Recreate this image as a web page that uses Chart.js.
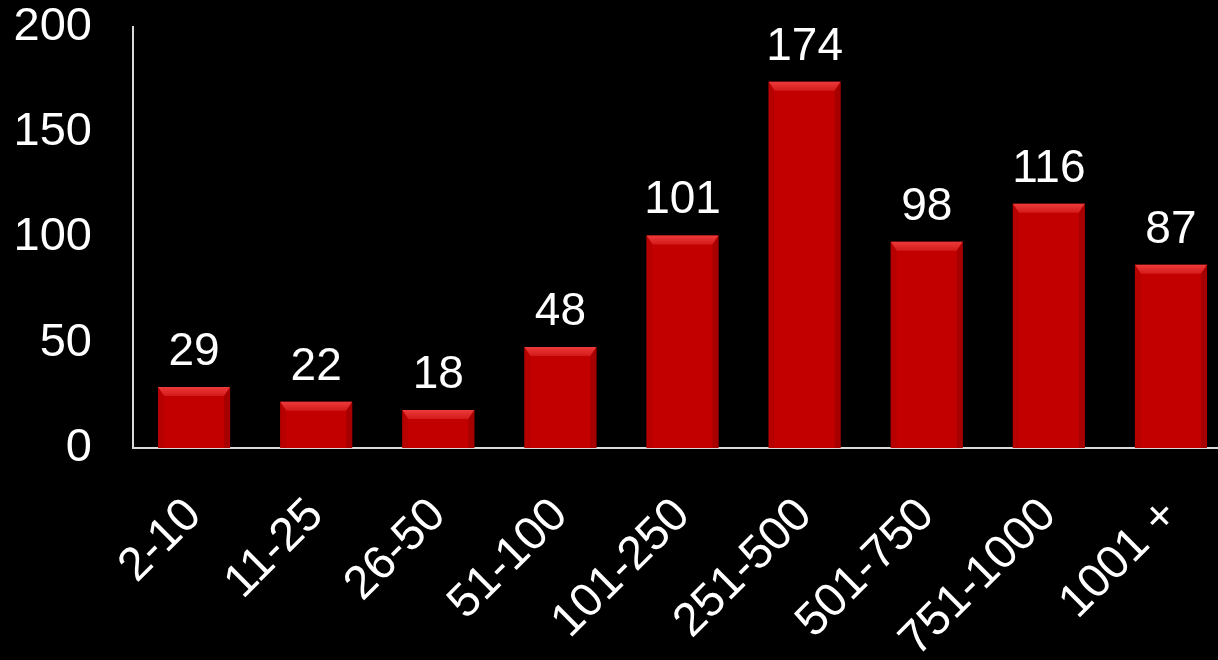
<!DOCTYPE html>
<html>
<head>
<meta charset="utf-8">
<script src="https://cdn.jsdelivr.net/npm/chart.js@4/dist/chart.umd.min.js"></script>
<style>
  html, body { margin: 0; padding: 0; background: #000; overflow: hidden; }
  #wrap { position: relative; width: 1232px; height: 660px; }
</style>
</head>
<body>
<div id="wrap"><canvas id="c"></canvas></div>
<script>
const categories = ["2-10", "11-25", "26-50", "51-100", "101-250", "251-500", "501-750", "751-1000", "1001 +"];
const values = [29, 22, 18, 48, 101, 174, 98, 116, 87];
const yTicks = [0, 50, 100, 150, 200];

const FONT = "'Liberation Sans', Arial, sans-serif";

const bevelPlugin = {
  id: 'bevel',
  afterDatasetsDraw(chart) {
    const ctx = chart.ctx;
    const meta = chart.getDatasetMeta(0);
    meta.data.forEach((bar, i) => {
      const p = bar.getProps(['x', 'y', 'base', 'width'], true);
      const l = p.x - p.width / 2, r = p.x + p.width / 2, t = p.y, b = p.base;
      const bt = 9, bs = 6;
      ctx.save();
      // top bevel
      let g = ctx.createLinearGradient(0, t, 0, t + bt);
      g.addColorStop(0, '#ec3a3a');
      g.addColorStop(1, '#d41a1a');
      ctx.fillStyle = g;
      ctx.beginPath();
      ctx.moveTo(l, t); ctx.lineTo(r, t); ctx.lineTo(r - bs, t + bt); ctx.lineTo(l + bs, t + bt); ctx.closePath();
      ctx.fill();
      // left bevel
      ctx.fillStyle = 'rgba(170,0,0,0.45)';
      ctx.beginPath();
      ctx.moveTo(l, t); ctx.lineTo(l + bs, t + bt); ctx.lineTo(l + bs, b); ctx.lineTo(l, b); ctx.closePath();
      ctx.fill();
      // right bevel
      ctx.fillStyle = 'rgba(140,0,0,0.5)';
      ctx.beginPath();
      ctx.moveTo(r, t); ctx.lineTo(r - bs, t + bt); ctx.lineTo(r - bs, b); ctx.lineTo(r, b); ctx.closePath();
      ctx.fill();
      // value label
      ctx.fillStyle = '#ffffff';
      ctx.font = '46px ' + FONT;
      ctx.textAlign = 'center';
      ctx.textBaseline = 'alphabetic';
      ctx.fillText(String(values[i]), p.x, t - 22);
      ctx.restore();
    });
  }
};

new Chart(document.getElementById('c'), {
  type: 'bar',
  data: {
    labels: categories,
    datasets: [{
      data: values,
      backgroundColor: '#c20000',
      borderWidth: 0,
      barPercentage: 0.59,
      categoryPercentage: 1.0
    }]
  },
  options: {
    responsive: true,
    maintainAspectRatio: false,
    animation: false,
    layout: { padding: 0 },
    plugins: { legend: { display: false }, tooltip: { enabled: false } },
    scales: {
      x: {
        grid: { display: false, drawTicks: false },
        border: { display: true, color: '#d9d9d9', width: 2 },
        ticks: {
          color: '#ffffff',
          font: { family: FONT, size: 47 },
          minRotation: 45, maxRotation: 45,
          padding: 40,
          autoSkip: false
        },
        afterFit(scale) {
          scale.height = 212;
          scale.paddingLeft = 0;
          scale.paddingRight = 0;
        }
      },
      y: {
        min: 0, max: 200,
        afterBuildTicks(axis) { axis.ticks = yTicks.map(v => ({ value: v })); },
        grid: { display: false, drawTicks: false },
        border: { display: true, color: '#d9d9d9', width: 2 },
        ticks: {
          color: '#ffffff',
          font: { family: FONT, size: 47 },
          padding: 41
        },
        afterFit(scale) {
          scale.width = 133;
          scale.paddingTop = 27;
          scale.paddingBottom = 0;
        }
      }
    }
  },
  plugins: [bevelPlugin]
});
</script>
</body>
</html>
